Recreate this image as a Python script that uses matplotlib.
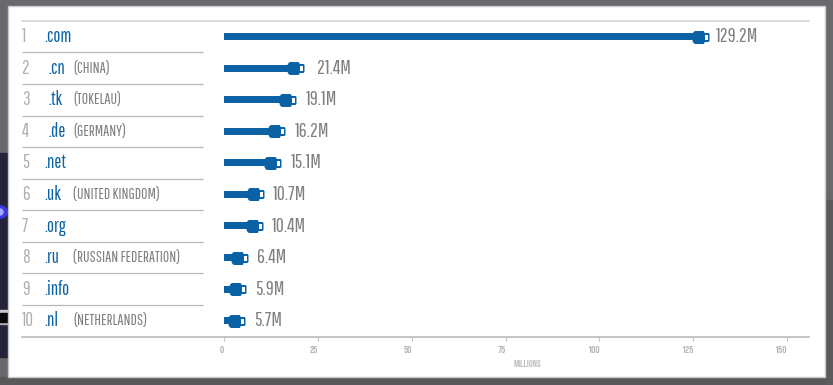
import matplotlib
matplotlib.use("Agg")
import matplotlib.pyplot as plt
from matplotlib.path import Path
from matplotlib.patches import Rectangle, Circle
from matplotlib import font_manager as fm
import numpy as np

ranks = ["1", "2", "3", "4", "5", "6", "7", "8", "9", "10"]
domains = [".com", ".cn", ".tk", ".de", ".net", ".uk", ".org", ".ru", ".info", ".nl"]
countries = ["", "(CHINA)", "(TOKELAU)", "(GERMANY)", "", "(UNITED KINGDOM)", "", "(RUSSIAN FEDERATION)", "", "(NETHERLANDS)"]
values = [129.2, 21.4, 19.1, 16.2, 15.1, 10.7, 10.4, 6.4, 5.9, 5.7]
value_labels = ["129.2M", "21.4M", "19.1M", "16.2M", "15.1M", "10.7M", "10.4M", "6.4M", "5.9M", "5.7M"]
ticks = [0, 25, 50, 75, 100, 125, 150]

W, H = 833, 385
names = {f.name for f in fm.fontManager.ttflist}
def pick(*opts):
    for o in opts:
        if o in names:
            return [o, "DejaVu Sans"]
    return ["Liberation Sans", "DejaVu Sans"]
NARROW = pick("Pathway Gothic One", "Antonio", "Oswald", "Roboto Condensed")
CAPS = pick("Bebas Neue", "Pathway Gothic One", "Oswald")
plt.rcParams["font.family"] = NARROW

BLUE = "#0a62a5"
GREY = "#7f7f82"
PX = 0.72  # points per pixel at dpi 100

fig = plt.figure(figsize=(W / 100, H / 100), dpi=100, facecolor="#69696d")

# page frame
bg = fig.add_axes([0, 0, 1, 1])
bg.set_xlim(0, W); bg.set_ylim(H, 0); bg.axis("off")
bg.add_patch(Rectangle((0, 377), W, 8, color="#59595b"))
bg.add_patch(Rectangle((825, 200), 8, 185, color="#5b5b5d"))
# sliver of the photograph behind the panel
bg.add_patch(Rectangle((0, 153), 8, 204, color="#23233a"))
bg.add_patch(Circle((1, 212), 6, color="#3a3ae0"))
bg.add_patch(Circle((0, 212), 3, color="#a9a9ff"))
bg.add_patch(Rectangle((0, 310), 8, 3, color="#c8c8d0"))
bg.add_patch(Rectangle((0, 322), 8, 2, color="#b0b0b8"))
bg.add_patch(Rectangle((0, 313), 8, 9, color="#08080c"))
bg.add_patch(Rectangle((8, 6), 817, 371, facecolor="white", edgecolor="#c9c9c9", lw=1, zorder=5))

# chart axes, placed in pixels
x0_px, scale = 224, (787 - 224) / 150
ax_l, ax_r, ax_t, ax_b = 22, 809, 21, 336.5
row0, row_h = 36.7, 31.55
ax = fig.add_axes([ax_l / W, 1 - ax_b / H, (ax_r - ax_l) / W, (ax_b - ax_t) / H])
ax.set_facecolor("none")
ax.set_xlim((ax_l - x0_px) / scale, (ax_r - x0_px) / scale)
ax.set_ylim((ax_b - row0) / row_h, (ax_t - row0) / row_h)
for s in ("left", "right"):
    ax.spines[s].set_visible(False)
ax.spines["top"].set_color("#d2d2d2"); ax.spines["top"].set_linewidth(1.1)
ax.spines["bottom"].set_color("#b5b5b5"); ax.spines["bottom"].set_linewidth(1.1)
ax.set_yticks([])
ax.set_xticks(ticks)
ax.set_xticklabels([str(t) for t in ticks], fontsize=7.5, color="#b4b4b4", ha="right", family=CAPS)
ax.tick_params(axis="x", length=3, width=0.8, color="#c4c4c4", pad=4)
ax.set_xlabel("MILLIONS", fontsize=7, color="#bdbdbd", family=CAPS)
ax.xaxis.set_label_coords((527 - ax_l) / (ax_r - ax_l), -0.075)

rows = np.arange(len(values))
px2x = lambda p: (p - x0_px) / scale

# row separators
for r in rows[:-1]:
    ax.plot([px2x(22), px2x(203)], [r + 0.5, r + 0.5], color="#b8b8b8", lw=0.9, solid_capstyle="butt")

# bars
ax.barh(rows, values, height=7 / row_h, color=BLUE, linewidth=0)

# plug heads drawn as pixel-sized markers anchored at each value
plug_v = [(-17, -3.5), (-16, -5.5), (-14.5, -6.5), (-6, -6.5), (-5, -5.5), (-5, -4.5), (-1, -4.5), (0, -3.5),
          (0, 3.5), (-1, 4.5), (-5, 4.5), (-5, 5.5), (-6, 6.5), (-14.5, 6.5), (-16, 5.5), (-17, 3.5), (-17, -3.5)]
plug_c = [Path.MOVETO] + [Path.LINETO] * 15 + [Path.CLOSEPOLY]
plug = Path(plug_v, plug_c)
hole = Path([(-4.5, -2.5), (-1.5, -2.5), (-1.5, 2.5), (-4.5, 2.5), (-4.5, -2.5)],
            [Path.MOVETO, Path.LINETO, Path.LINETO, Path.LINETO, Path.CLOSEPOLY])
ax.plot(values, rows, ls="none", marker=plug, markersize=2 * 17 * PX, color=BLUE, markeredgewidth=0, zorder=3, clip_on=False)
ax.plot(values, rows, ls="none", marker=hole, markersize=2 * 4.5 * PX, color="white", markeredgewidth=0, zorder=4, clip_on=False)

# labels
indent = {".cn": 48, ".tk": 48, ".de": 48}
gap = {"21.4M": 13, "19.1M": 10, "16.2M": 10, "15.1M": 10, "129.2M": 7}
for r in rows:
    ax.text(px2x(22), r, ranks[r], fontsize=13.5, color="#b0b0b0", va="center", ha="left", family=NARROW)
    ax.text(px2x(indent.get(domains[r], 44)), r, domains[r], fontsize=13.5, color=BLUE, va="center", ha="left")
    if countries[r]:
        ax.text(px2x(73), r, countries[r], fontsize=11.2, color=GREY, va="center", ha="left", family=NARROW)
    ax.annotate(value_labels[r], (values[r], r), xytext=(gap.get(value_labels[r], 8.5) * PX, 0),
                textcoords="offset points", fontsize=14.2, color=GREY, va="center", ha="left")

fig.savefig("out.png", dpi=100, facecolor=fig.get_facecolor())
